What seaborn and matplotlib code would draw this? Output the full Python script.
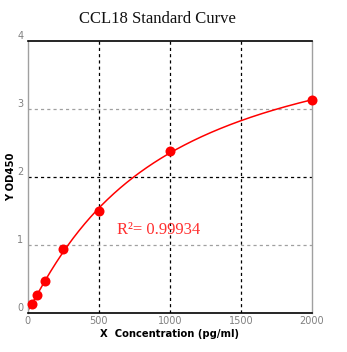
import numpy as np
import pandas as pd
import matplotlib
matplotlib.use("Agg")
import matplotlib.pyplot as plt
import seaborn as sns

# Standard curve data
concentration = [31.25, 62.5, 125, 250, 500, 1000, 2000]
od450 = [0.14, 0.27, 0.47, 0.94, 1.50, 2.38, 3.13]
x_ticks = [0, 500, 1000, 1500, 2000]
y_ticks = [0, 1, 2, 3, 4]
title = "CCL18 Standard Curve"
r2_label = "R\u00b2= 0.99934"

df = pd.DataFrame({"conc": concentration, "od": od450})

# Four-parameter logistic fit (simple damped Gauss-Newton)
def f4pl(x, p):
    a, b, c, d = p
    return d + (a - d) / (1.0 + (x / c) ** b)

x = np.array(concentration, float)
y = np.array(od450, float)
p = np.array([0.02, 1.0, 1500.0, 5.0])
lam = 1e-3
for _ in range(500):
    r = y - f4pl(x, p)
    J = np.empty((len(x), 4))
    for k in range(4):
        h = 1e-6 * max(abs(p[k]), 1.0)
        dp = np.zeros(4); dp[k] = h
        J[:, k] = (f4pl(x, p + dp) - f4pl(x, p - dp)) / (2 * h)
    A = J.T @ J
    step = np.linalg.solve(A + lam * np.diag(np.diag(A)), J.T @ r)
    pn = p + step
    if pn[2] > 0 and np.sum((y - f4pl(x, pn)) ** 2) < np.sum(r ** 2):
        p = pn; lam *= 0.5
    else:
        lam *= 4
xs = np.linspace(0.5, 2000, 400)
fit = pd.DataFrame({"conc": xs, "od": f4pl(xs, p)})

sns.set_style("white")
fig = plt.figure(figsize=(3.47, 3.52), dpi=100)
ax = fig.add_axes([0.0798, 0.110, 0.8192, 0.7735])

sns.lineplot(data=fit, x="conc", y="od", ax=ax, color="#ff0000", lw=1.1)
sns.scatterplot(data=df, x="conc", y="od", ax=ax, color="#ff0000",
                s=52, edgecolor="#ff0000", linewidth=0, zorder=5, clip_on=False)

ax.set_xlim(0, 2000)
ax.set_ylim(0, 4)
ax.set_xticks(x_ticks)
ax.set_yticks(y_ticks)
ax.set_xticklabels([str(t) for t in x_ticks])
ax.set_yticklabels([str(t) for t in y_ticks])
ax.tick_params(length=0, labelsize=7, labelcolor="#808080", pad=2)
ax.tick_params(axis="y", pad=3)
for lbl in ax.get_yticklabels():
    lbl.set_verticalalignment("bottom")

# Grid lines
for xv in [500, 1000, 1500]:
    ax.axvline(xv, color="black", lw=0.9, ls=(0, (2.5, 2.5)), zorder=1)
ax.axhline(2, color="black", lw=0.9, ls=(0, (2.5, 2.5)), zorder=1)
for yv in [1, 3]:
    ax.axhline(yv, color="#a0a0a0", lw=0.9, ls=(0, (2.5, 2.5)), zorder=1)

for side in ["top", "bottom"]:
    ax.spines[side].set_color("black")
    ax.spines[side].set_linewidth(1.2)
for side in ["left", "right"]:
    ax.spines[side].set_color("#a0a0a0")
    ax.spines[side].set_linewidth(1.0)

ax.set_xlabel("X  Concentration (pg/ml)", fontsize=7.2, fontweight="bold",
              color="black", labelpad=2)
ax.set_ylabel("Y OD450", fontsize=7.2, fontweight="bold", color="black",
              labelpad=1)

fig.text(0.455, 0.946, title, ha="center", va="center",
         fontsize=12, family="Liberation Serif", color="#111111")
ax.text(628, 1.22, r2_label, ha="left", va="center", fontsize=12,
        family="Liberation Serif", color="#ff3030")

fig.savefig("out.png", dpi=100)
